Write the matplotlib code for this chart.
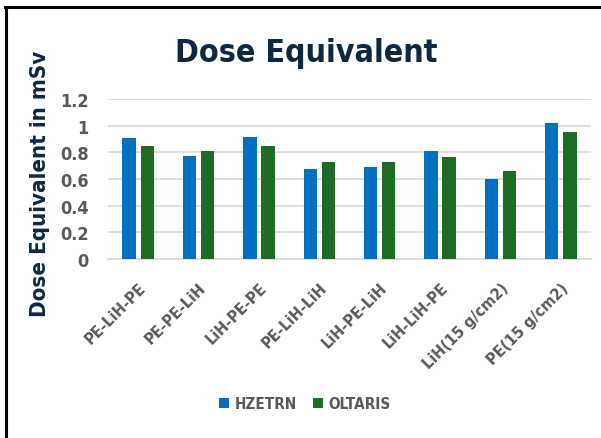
import numpy as np
import matplotlib
matplotlib.use("Agg")
import matplotlib.pyplot as plt
from matplotlib.lines import Line2D

# ---- data ----
categories = ["PE-LiH-PE", "PE-PE-LiH", "LiH-PE-PE", "PE-LiH-LiH",
              "LiH-PE-LiH", "LiH-LiH-PE", "LiH(15 g/cm2)", "PE(15 g/cm2)"]
hzetrn = [0.905, 0.775, 0.915, 0.675, 0.688, 0.812, 0.603, 1.023]
oltaris = [0.845, 0.808, 0.845, 0.725, 0.730, 0.763, 0.663, 0.955]
yticks = [0, 0.2, 0.4, 0.6, 0.8, 1.0, 1.2]
ytick_labels = ["0", "0.2", "0.4", "0.6", "0.8", "1", "1.2"]

blue = "#0070c0"
green = "#1e6b24"
navy = "#0e2841"
grey = "#595959"
fam = ["DejaVu Sans"]
st = "condensed"

W, H = 601, 439
fig = plt.figure(figsize=(W / 100, H / 100), dpi=100)
ax = fig.add_axes([108 / W, 1 - 260 / H, 483 / W, 160 / H])

x = np.arange(len(categories))
bw = 0.22
ax.bar(x - 0.15, hzetrn, bw, color=blue, label="HZETRN", zorder=3)
ax.bar(x + 0.15, oltaris, bw, color=green, label="OLTARIS", zorder=3)

ax.set_xlim(-0.5, len(categories) - 0.5)
ax.set_ylim(0, 1.2)
ax.set_yticks(yticks)
ax.set_yticklabels(ytick_labels, family=fam, stretch=st, fontsize=13, fontweight="bold", color=grey)
ax.set_xticks(x)
ax.set_xticklabels(categories, rotation=45, ha="right", va="top", rotation_mode="anchor",
                   family=fam, stretch=st, fontsize=11.5, fontweight="bold", color=grey)
ax.tick_params(axis="y", length=0, pad=14)
ax.tick_params(axis="x", length=0, pad=15)
ax.grid(axis="y", color="#d9d9d9", linewidth=1.2, zorder=0)
for s in ["top", "right", "left"]:
    ax.spines[s].set_visible(False)
ax.spines["bottom"].set_color("#d9d9d9")
ax.spines["bottom"].set_linewidth(1.2)

fig.text(306 / W, 1 - 62 / H, "Dose Equivalent", ha="center", va="baseline",
         family=fam, stretch=st, fontsize=23, fontweight="bold", color=navy)
fig.text(40 / W, 1 - 184 / H, "Dose Equivalent in mSv", ha="center", va="center",
         rotation=90, family=fam, stretch=st, fontsize=16, fontweight="bold", color=navy)

leg = fig.legend(loc="center", bbox_to_anchor=(305 / W, 1 - 405 / H), ncol=2, frameon=False,
                 prop={"family": fam, "stretch": st, "size": 11, "weight": "bold"},
                 handlelength=0.65, handleheight=0.65, handletextpad=0.4, columnspacing=1.0)
for t in leg.get_texts():
    t.set_color(grey)

# outer frame (left and top edges only)
fig.add_artist(Line2D([6 / W, 6 / W], [0, 1 - 8 / H], color="black", linewidth=2.2,
                      transform=fig.transFigure))
fig.add_artist(Line2D([5 / W, 1], [1 - 8 / H, 1 - 8 / H], color="black", linewidth=2.2,
                      transform=fig.transFigure))

fig.savefig("out.png", dpi=100, facecolor="white")
